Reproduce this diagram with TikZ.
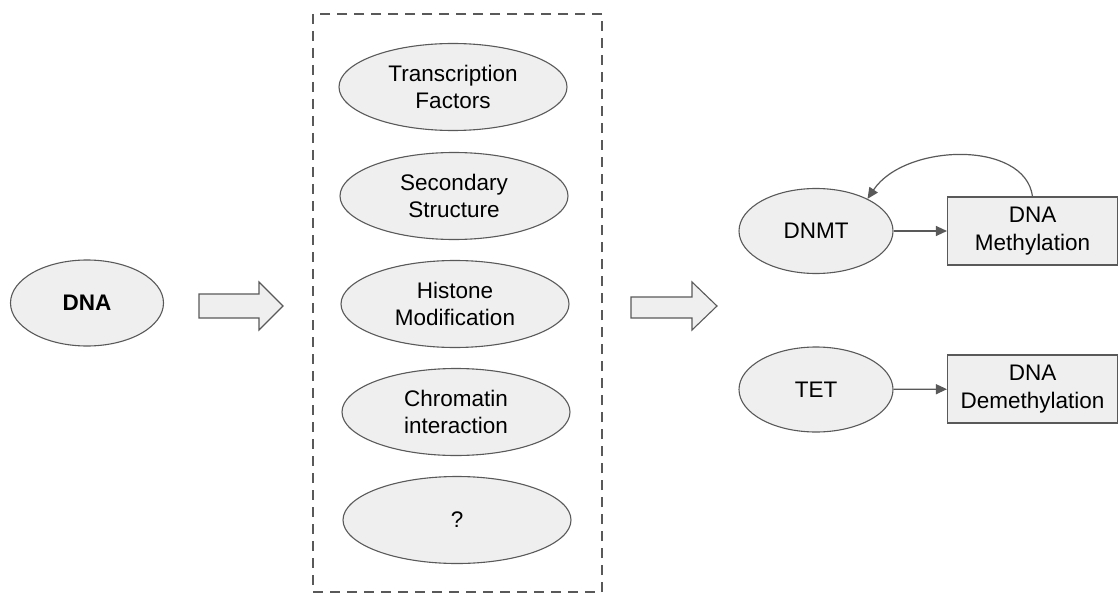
\documentclass[tikz,border=0pt]{standalone}
\usepackage{fontspec}
\setmainfont{Liberation Sans}
\usetikzlibrary{shapes.geometric,arrows.meta}
\definecolor{shapefill}{HTML}{EFEFEF}
\definecolor{edgegray}{HTML}{595959}
\tikzset{
  oval/.style={ellipse, draw=edgegray, line width=1.1pt, fill=shapefill, minimum width=228pt, minimum height=87pt, inner sep=0pt, align=center, font=\fontsize{22.5}{27.5}\selectfont},
  smalloval/.style={oval, minimum width=154pt, minimum height=85pt},
  procbox/.style={rectangle, draw=edgegray, line width=1.1pt, fill=shapefill, minimum width=170pt, minimum height=68pt, inner sep=0pt, align=center, font=\fontsize{22.5}{27.5}\selectfont},
  fatarrow/.style={draw=edgegray, line width=1.1pt, fill=shapefill, line join=miter},
  conn/.style={draw=edgegray, line width=1.2pt, -{Triangle[length=11pt,width=10pt]}},
  dashbox/.style={draw=edgegray, line width=2.5pt, dash pattern=on 10pt off 7pt}
}
\begin{document}
\begin{tikzpicture}[x=1pt,y=-1pt]
\useasboundingbox (0,0) rectangle (1118,596);
% left
\node[oval, minimum width=153pt, minimum height=86pt, font=\fontsize{22.5}{27.5}\selectfont\bfseries] (dna) at (87,303) {DNA};
% block arrow 1
\path[fatarrow] (199,294) -- (259,294) -- (259,282) -- (283,306) -- (259,330) -- (259,318) -- (199,318) -- cycle;
% dashed box
\draw[dashbox] (313,14) rectangle (602,592);
\node[oval] (tf) at (453,87) {Transcription\\Factors};
\node[oval] (ss) at (454,196) {Secondary\\Structure};
\node[oval] (hm) at (455,304) {Histone\\Modification};
\node[oval] (ci) at (456,412) {Chromatin\\interaction};
\node[oval] (q) at (457,520) {?};
% block arrow 2
\path[fatarrow] (631,297) -- (692,297) -- (692,282) -- (717,306) -- (692,330) -- (692,318) -- (631,318) -- cycle;
% right
\node[smalloval] (dnmt) at (816,231) {DNMT};
\node[procbox] (meth) at (1032.5,231) {DNA\\Methylation};
\node[smalloval] (tet) at (816,389.5) {TET};
\node[procbox] (demeth) at (1032.5,389) {DNA\\Demethylation};
\draw[conn] (dnmt) -- (meth);
\draw[conn] (tet) -- (demeth);
\draw[conn] (meth.north) .. controls (1025,140) and (905,143) .. (dnmt.32);
\end{tikzpicture}
\end{document}
